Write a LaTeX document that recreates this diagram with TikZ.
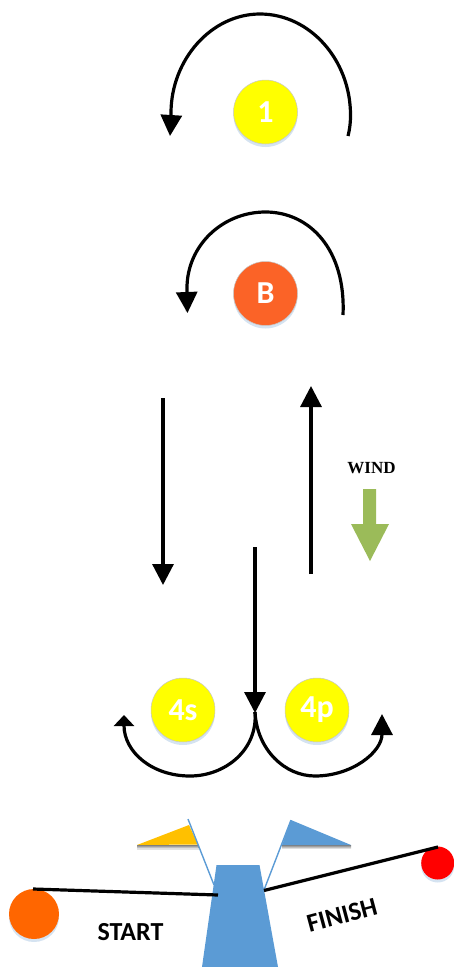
\documentclass[tikz,border=0pt]{standalone}
\usepackage{fontspec}
\setmainfont{Carlito}
\newfontfamily\windfont{Liberation Serif}
\usetikzlibrary{arrows.meta}
\definecolor{shade}{HTML}{D5E3F1}
\definecolor{sailblue}{HTML}{5B9BD5}
\definecolor{wgreen}{HTML}{9BBB59}
\definecolor{markorange}{HTML}{FB6327}
\definecolor{markyellow}{HTML}{FFFF00}
\definecolor{pinorange}{HTML}{FF6600}
\definecolor{finred}{HTML}{FF0000}
\definecolor{flagyellow}{HTML}{FFC000}
\tikzset{
  x=1pt,y=-1pt,
  buoy/.style={circle,minimum size=#1,inner sep=0pt,draw=black!22,line width=.5pt},
  buoyshadow/.style={circle,minimum size=#1,inner sep=0pt,fill=shade},
  buoytext/.style={text=white,font=\fontsize{32}{32}\selectfont\bfseries},
  course/.style={line width=3.2pt,black},
  tipcourse/.style={course,-{Triangle[length=21pt,width=21pt]}},
  smalltip/.style={course,-{Triangle[length=11pt,width=20pt]}},
  rode/.style={line width=3.2pt,black},
  pole/.style={line width=1.4pt,sailblue},
  lab/.style={font=\fontsize{26}{26}\selectfont\bfseries,inner sep=0pt}
}
\begin{document}
\begin{tikzpicture}
\useasboundingbox (0,0) rectangle (454,967);
% marks
\foreach \n/\x/\y/\c/\t in {one/265.5/112/markyellow/1,bb/265.5/293.5/markorange/B,fs/183/710/markyellow/4s,fp/317/710/markyellow/4p}{
  \node[buoyshadow=64pt] at (\x,\y+3) {};
  \node[buoy=64pt,fill=\c,buoytext] (\n) at (\x,\y) {\t};
}
% coordinates
\coordinate (a1) at (348,136); \coordinate (a2) at (170,136);
\coordinate (b1) at (343,315); \coordinate (b2) at (187.5,313);
\coordinate (l1) at (163,398); \coordinate (l2) at (163,585);
\coordinate (r1) at (311,574); \coordinate (r2) at (311,386);
\coordinate (m1) at (255,547); \coordinate (m2) at (255,713);
\coordinate (c0) at (255,712); \coordinate (c1) at (124,715); \coordinate (c2) at (382,714);
% arcs
\draw[tipcourse] (a1) .. controls (350,128) and (350.5,122) .. (350.5,115) .. controls (350.5,60) and (310,14) .. (260,14) .. controls (211,14) and (171,60) .. (171,113) .. controls (171,120) and (170.5,128) .. (a2);
\draw[tipcourse] (b1) .. controls (346,250) and (310,212) .. (265.5,212) .. controls (222,212) and (187,246) .. (187,288) .. controls (187,296) and (187.2,305) .. (b2);
\draw[tipcourse] (l1) -- (l2);
\draw[tipcourse] (r1) -- (r2);
\draw[tipcourse] (m1) -- (m2);
\draw[smalltip] (c0) .. controls (258,750) and (225,776) .. (190,776) .. controls (152,776) and (124,752) .. (c1);
\draw[tipcourse] (c0) .. controls (257,750) and (285,776) .. (315,776) .. controls (352,776) and (382,752) .. (c2);
% wind
\node[inner sep=0pt,font=\windfont\fontsize{17}{17}\selectfont\bfseries] (wind) at (371.5,468) {WIND};
\fill[wgreen] (363,489) -- (376,489) -- (376,524) -- (389,524) -- (370,561) -- (351,524) -- (363,524) -- cycle;
% flags and boat
\fill[shade] (137,845) -- (198,845) -- (199,849) -- (137,849) -- cycle;
\fill[shade] (282,845) -- (351,845) -- (351,849) -- (282,849) -- cycle;
\fill[flagyellow] (137,845) -- (189,825) -- (198,844.5) -- cycle;
\fill[sailblue] (291,820) -- (351,845) -- (282,845) -- cycle;
\coordinate (p1) at (188,819); \coordinate (p2) at (214,885);
\coordinate (p3) at (291,820); \coordinate (p4) at (264,890);
\draw[pole] (p1) -- (p2);
\draw[pole] (p3) -- (p4);
\fill[sailblue] (216.5,865) -- (259.5,865) -- (278,967) -- (202,967) -- cycle;
% line ends
\node[buoyshadow=50pt] at (34,917) {};
\node[circle,minimum size=50pt,inner sep=0pt,fill=pinorange] (pin) at (34,914) {};
\node[buoyshadow=33pt] at (437.7,866) {};
\node[circle,minimum size=33pt,inner sep=0pt,fill=finred] (fin) at (437.7,863) {};
\coordinate (s1) at (33,889); \coordinate (s2) at (218,895);
\coordinate (f1) at (264,890.5); \coordinate (f2) at (438,847);
\draw[rode] (s1) -- (s2);
\draw[rode] (f1) -- (f2);
\node[lab] (start) at (130.5,932) {START};
\node[lab,rotate=15] (finish) at (342,915) {FINISH};
\end{tikzpicture}
\end{document}
